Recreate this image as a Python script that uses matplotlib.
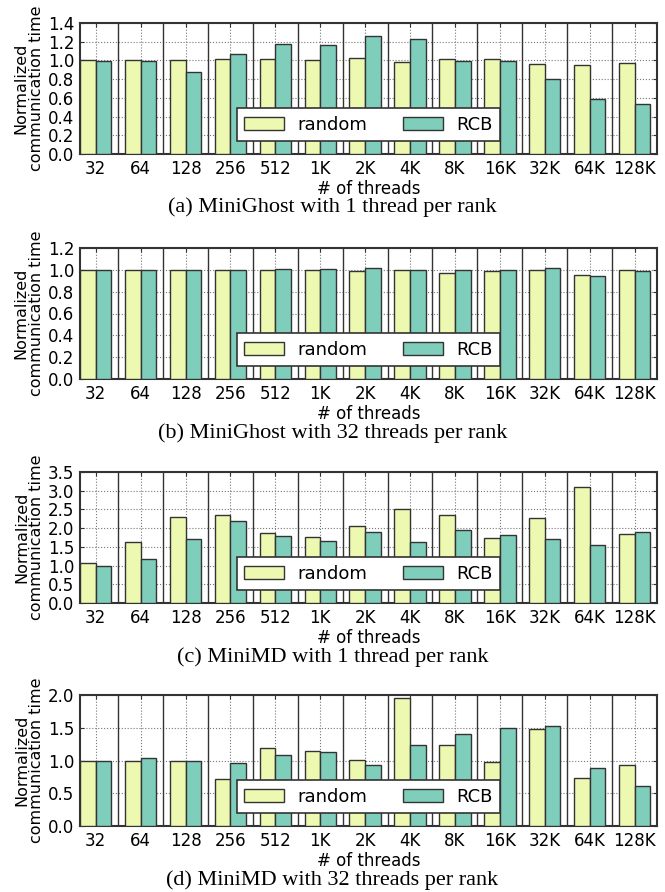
import matplotlib
matplotlib.use('Agg')
import matplotlib.pyplot as plt
import numpy as np

threads = ['32', '64', '128', '256', '512', '1K', '2K', '4K', '8K', '16K', '32K', '64K', '128K']

# (a) MiniGhost, 1 thread per rank
ghost1_random = [1.00, 1.00, 1.00, 1.01, 1.01, 1.00, 1.03, 0.98, 1.01, 1.02, 0.96, 0.95, 0.97]
ghost1_rcb = [0.99, 0.99, 0.88, 1.07, 1.18, 1.17, 1.26, 1.23, 0.99, 0.99, 0.80, 0.59, 0.53]
# (b) MiniGhost, 32 threads per rank
ghost32_random = [1.00, 1.00, 0.995, 0.995, 1.00, 0.995, 0.99, 1.00, 0.975, 0.99, 1.00, 0.95, 1.00]
ghost32_rcb = [1.00, 1.00, 1.00, 0.995, 1.005, 1.01, 1.02, 1.00, 1.00, 1.00, 1.02, 0.94, 0.99]
# (c) MiniMD, 1 thread per rank
md1_random = [1.07, 1.64, 2.29, 2.36, 1.86, 1.77, 2.07, 2.51, 2.36, 1.74, 2.26, 3.10, 1.85]
md1_rcb = [1.00, 1.17, 1.70, 2.18, 1.80, 1.66, 1.90, 1.64, 1.96, 1.83, 1.71, 1.56, 1.90]
# (d) MiniMD, 32 threads per rank
md32_random = [1.00, 1.00, 0.995, 0.72, 1.19, 1.14, 1.005, 1.95, 1.23, 0.97, 1.48, 0.73, 0.93]
md32_rcb = [1.00, 1.04, 0.985, 0.965, 1.08, 1.13, 0.93, 1.23, 1.41, 1.50, 1.53, 0.89, 0.61]

panels = [
    (ghost1_random, ghost1_rcb, 1.4, 0.2, '(a) MiniGhost with 1 thread per rank'),
    (ghost32_random, ghost32_rcb, 1.2, 0.2, '(b) MiniGhost with 32 threads per rank'),
    (md1_random, md1_rcb, 3.5, 0.5, '(c) MiniMD with 1 thread per rank'),
    (md32_random, md32_rcb, 2.0, 0.5, '(d) MiniMD with 32 threads per rank'),
]

c_random = '#edf8b1'
c_rcb = '#7fcdbb'
edge = '#333333'

fig = plt.figure(figsize=(6.65, 8.92), dpi=100)
W, H = 665.0, 892.0
bottoms = [154, 379, 603, 826]
caps_y = [207, 433, 657, 880]
left, right = 80, 657
w = 0.35
x = np.arange(len(threads))

for (r, c, ymax, step, cap), b, cy in zip(panels, bottoms, caps_y):
    ax = fig.add_axes([left / W, 1 - b / H, (right - left) / W, 131 / H])
    ax.bar(x - w, r, w, align='edge', color=c_random, edgecolor=edge, linewidth=1.0, label='random', zorder=3)
    ax.bar(x, c, w, align='edge', color=c_rcb, edgecolor=edge, linewidth=1.0, label='RCB', zorder=3)
    for i in range(len(threads) - 1):
        ax.axvline(i + 0.5, color=edge, linewidth=1.0, zorder=2)
    ax.set_xlim(-w, len(threads) - 0.5)
    ax.set_ylim(0, ymax)
    yt = np.arange(0, ymax + step / 2, step)
    ax.set_yticks(yt)
    ax.set_yticklabels(['%.1f' % v for v in yt])
    ax.set_xticks(x)
    ax.set_xticklabels(threads)
    ax.grid(True, linestyle=':', color='#777777', linewidth=0.8, zorder=0)
    ax.set_axisbelow(True)
    ax.tick_params(axis='both', labelsize=12, direction='in', length=3, color=edge,
                   top=True, right=True, pad=4)
    for s in ax.spines.values():
        s.set_color(edge)
        s.set_linewidth(1.5)
    ax.set_xlabel('# of threads', fontsize=12, labelpad=2)
    ax.set_ylabel('Normalized\ncommunication time', fontsize=11.5, linespacing=1.0, labelpad=3)
    leg = ax.legend(loc='lower center', bbox_to_anchor=(0.5, 0.10), ncol=2, fontsize=13,
                    fancybox=False, framealpha=1, edgecolor=edge, handlelength=2.2,
                    handletextpad=0.75, columnspacing=2.0, borderpad=0.4, borderaxespad=0)
    leg.get_frame().set_linewidth(1.2)
    leg.set_zorder(5)
    fig.text(0.5, 1 - cy / H, cap, ha='center', va='center', fontsize=16,
             family='Liberation Serif')

fig.savefig('out.png', dpi=100)
